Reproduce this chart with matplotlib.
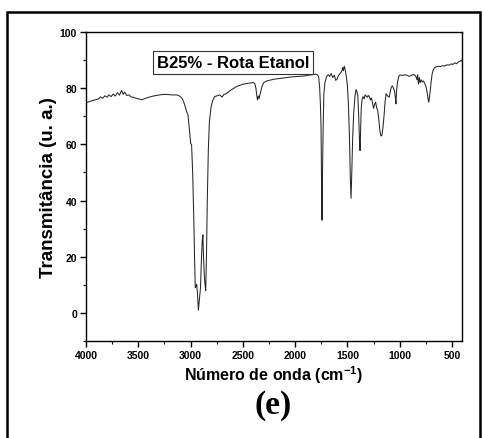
import numpy as np
import matplotlib.pyplot as plt
from matplotlib.patches import Rectangle
from matplotlib.ticker import MultipleLocator

numero_onda = [4000, 3960, 3920, 3880, 3860, 3840, 3820, 3800, 3780, 3760,
               3740, 3720, 3700, 3680, 3660, 3645, 3630, 3610, 3590, 3570,
               3550, 3520, 3490, 3465, 3430, 3380, 3330, 3280, 3230, 3180,
               3130, 3100, 3080, 3060, 3040, 3025, 3010, 3000, 2990, 2980,
               2970, 2962, 2955, 2948, 2942, 2935, 2925, 2915, 2905, 2895,
               2888, 2882, 2876, 2868, 2860, 2855, 2848, 2840, 2830, 2820,
               2805, 2790, 2770, 2745, 2720, 2700, 2680, 2660, 2620, 2560,
               2500, 2440, 2400, 2385, 2375, 2367, 2360, 2352, 2345, 2338,
               2330, 2318, 2300, 2270, 2200, 2120, 2040, 1960, 1900, 1860,
               1830, 1800, 1785, 1775, 1765, 1758, 1752, 1747, 1743, 1738,
               1732, 1725, 1715, 1700, 1685, 1670, 1655, 1640, 1625, 1612,
               1600, 1585, 1570, 1555, 1545, 1538, 1530, 1520, 1510, 1500,
               1490, 1480, 1472, 1465, 1458, 1450, 1440, 1428, 1418, 1410,
               1400, 1392, 1385, 1379, 1374, 1368, 1360, 1350, 1340, 1330,
               1320, 1310, 1300, 1290, 1280, 1270, 1260, 1250, 1240, 1230,
               1220, 1210, 1200, 1190, 1180, 1170, 1160, 1150, 1140, 1130,
               1120, 1110, 1100, 1090, 1080, 1070, 1060, 1050, 1042, 1036,
               1030, 1020, 1005, 990, 970, 950, 930, 910, 890, 870,
               855, 845, 835, 828, 820, 812, 805, 795, 785, 775,
               765, 755, 745, 735, 728, 722, 716, 708, 700, 690,
               680, 665, 650, 630, 610, 590, 570, 550, 530, 510,
               490, 470, 455, 440, 425, 410, 404]
transmitancia = [74.8, 75.3, 75.8, 76.2, 76.9, 76.4, 77.3, 76.8, 77.6, 77.0,
                 77.9, 77.2, 78.4, 77.5, 79.2, 77.8, 78.6, 77.4, 77.6, 76.9,
                 76.8, 76.4, 76.1, 75.9, 76.4, 77.0, 77.4, 77.7, 77.8, 77.6,
                 77.6, 77.1, 76.3, 74.5, 72.0, 70.5, 65.0, 60.5, 59.8, 50.0,
                 35.0, 20.0, 9.0, 9.5, 10.2, 7.5, 1.0, 5.0, 9.0, 20.0,
                 26.0, 27.8, 20.0, 13.0, 9.5, 8.0, 20.0, 40.0, 58.0, 68.0,
                 73.0, 75.5, 77.0, 77.3, 77.6, 76.8, 77.8, 78.0, 79.2, 80.6,
                 81.4, 81.8, 82.0, 81.6, 80.0, 77.5, 75.8, 77.2, 76.3, 77.5,
                 78.6, 80.5, 82.0, 82.6, 83.2, 83.6, 84.0, 84.2, 84.4, 84.7,
                 84.8, 85.0, 84.7, 84.0, 80.0, 74.0, 66.0, 45.0, 33.0, 50.0,
                 66.0, 78.0, 82.0, 84.0, 84.8, 84.2, 85.2, 83.8, 84.6, 82.8,
                 83.2, 84.5, 85.2, 86.0, 87.4, 86.2, 87.8, 86.4, 84.0, 81.0,
                 74.0, 62.0, 48.0, 40.8, 50.0, 62.0, 71.0, 77.0, 79.5, 79.0,
                 77.0, 70.0, 62.0, 57.8, 64.0, 72.5, 76.0, 77.0, 76.2, 77.6,
                 77.2, 76.8, 77.4, 77.0, 75.8, 76.5, 74.8, 72.8, 74.2, 75.0,
                 73.0, 72.0, 69.0, 65.0, 63.0, 63.2, 66.0, 70.0, 75.0, 78.0,
                 77.5, 77.0, 76.8, 78.8, 80.4, 80.8, 80.0, 79.0, 77.0, 74.4,
                 79.0, 82.5, 84.5, 84.7, 84.5, 84.8, 84.6, 84.2, 84.5, 84.9,
                 84.6, 84.2, 83.0, 84.8, 81.5, 83.8, 82.0, 83.0, 82.2, 82.6,
                 82.0, 81.2, 80.0, 78.0, 76.0, 75.0, 76.5, 79.0, 82.0, 85.0,
                 86.5, 87.3, 87.6, 87.8, 87.7, 88.0, 87.9, 88.3, 88.2, 88.6,
                 88.5, 89.0, 88.7, 89.3, 89.5, 90.0, 89.6]

legenda = 'B25% - Rota Etanol'

plt.rcParams['font.family'] = ['Liberation Sans', 'DejaVu Sans']
plt.rcParams['mathtext.fontset'] = 'custom'
plt.rcParams['mathtext.bf'] = 'Liberation Sans:bold'
plt.rcParams['mathtext.rm'] = 'Liberation Sans'

fig = plt.figure(figsize=(4.83, 4.39), dpi=100)

# moldura exterior
fig.patches.append(Rectangle((7 / 483, -0.05), 473 / 483, 1.05 - 12.5 / 439,
                             transform=fig.transFigure, fill=False,
                             edgecolor='black', linewidth=1.8))

ax = fig.add_axes([86 / 483, 97 / 439, 376 / 483, 309 / 439])
ax.plot(numero_onda, transmitancia, color='#262626', linewidth=0.75)

ax.set_xlim(4000, 404)
ax.set_ylim(-10, 100)
ax.xaxis.set_major_locator(MultipleLocator(500))
ax.xaxis.set_minor_locator(MultipleLocator(250))
ax.yaxis.set_minor_locator(MultipleLocator(10))
ax.set_yticks([0, 20, 40, 60, 80, 100])
ax.tick_params(which='major', direction='out', length=4.5, width=1.0,
               labelsize=7.5, pad=2)
ax.tick_params(which='minor', direction='out', length=2.5, width=0.8)
for lab in ax.get_xticklabels() + ax.get_yticklabels():
    lab.set_fontweight('bold')
for s in ax.spines.values():
    s.set_linewidth(1.0)

ax.set_xlabel('Número de onda (cm$^{\\mathbf{-1}}$)', fontsize=11.5,
              fontweight='bold', labelpad=2)
ax.set_ylabel('Transmitância (u. a.)', fontsize=13.5, fontweight='bold',
              labelpad=2)

ax.text(0.391, 0.901, legenda, transform=ax.transAxes, ha='center',
        va='center', fontsize=12, fontweight='bold',
        bbox=dict(boxstyle='square,pad=0.22', facecolor='white',
                  edgecolor='#333333', linewidth=0.8))

fig.text(273 / 483, 1 - 406 / 439, '(e)', ha='center', va='center',
         fontsize=24, fontweight='bold',
         family=['Liberation Serif', 'DejaVu Serif'])

fig.savefig('out.png', dpi=100)
